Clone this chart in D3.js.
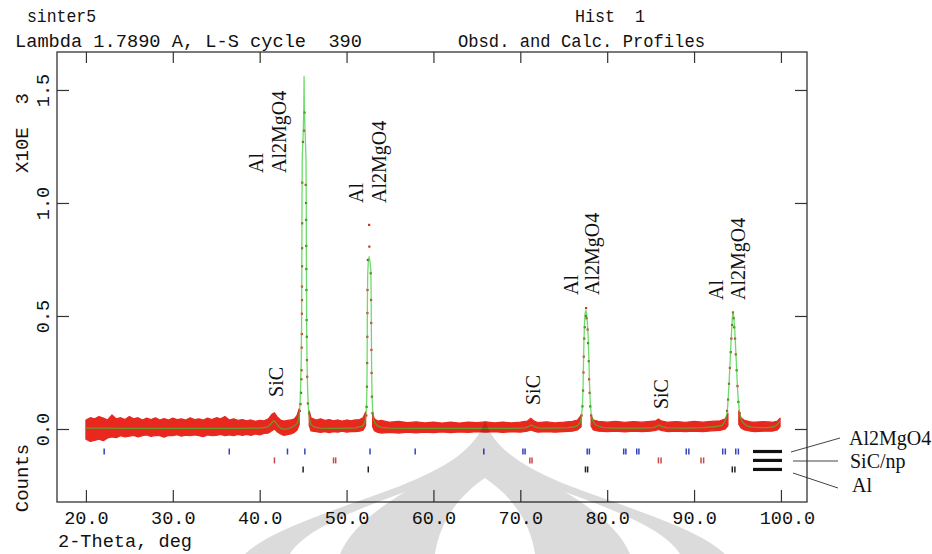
<!DOCTYPE html>
<html><head><meta charset="utf-8">
<script src="https://cdn.jsdelivr.net/npm/d3@7"></script>
<style>
body{margin:0;background:#fff}
svg{display:block}
.mono{font-family:"Liberation Mono",monospace;fill:#111}
.serif{font-family:"Liberation Serif",serif;fill:#111}
</style>
</head><body>
<svg id="chart" width="932" height="554"></svg>
<script>
// ---------------- DATA ----------------
const xTickValues = [20, 30, 40, 50, 60, 70, 80, 90, 100];
const yTickValues = [0, 0.5, 1.0, 1.5];

const bandTheta = [20.0,20.5,21.0,21.5,22.0,22.5,23.0,23.5,24.0,24.5,25.0,25.5,26.0,26.5,27.0,27.5,28.0,28.5,29.0,29.5,30.0,30.5,31.0,31.5,32.0,32.5,33.0,33.5,34.0,34.5,35.0,35.5,36.0,36.5,37.0,37.5,38.0,38.5,39.0,39.5,40.0,40.5,41.0,41.4,41.7,42.0,42.4,42.8,43.2,43.6,44.0,44.3,44.55,
 null,
 45.7,45.9,46.5,47.0,47.5,48.0,48.5,49.0,49.5,50.0,50.5,51.0,51.5,51.9,52.2,
 null,
 53.0,53.2,53.6,54.0,55,56,57,58,59,60,61,62,63,64,65,66,67,68,69,70,70.8,71.2,71.6,72,73,74,75,76,76.6,77.0,
 null,
 78.15,78.4,79,80,81,82,83,84,85,85.6,85.9,86.2,87,88,89,90,91,92,93,93.6,93.9,
 null,
 95.15,95.4,95.8,96.5,97,98,99,99.6,99.9];
const bandHigh = [0.040,0.050,0.045,0.055,0.048,0.040,0.062,0.045,0.050,0.042,0.055,0.045,0.050,0.040,0.048,0.042,0.050,0.040,0.046,0.040,0.048,0.042,0.045,0.040,0.050,0.042,0.045,0.040,0.048,0.042,0.050,0.045,0.055,0.040,0.045,0.038,0.042,0.036,0.040,0.034,0.038,0.036,0.045,0.065,0.072,0.055,0.040,0.035,0.038,0.040,0.045,0.060,0.090,
 null,
 0.080,0.050,0.040,0.045,0.038,0.042,0.036,0.040,0.035,0.040,0.036,0.040,0.042,0.050,0.075,
 null,
 0.070,0.045,0.035,0.038,0.030,0.034,0.028,0.032,0.027,0.030,0.026,0.030,0.026,0.030,0.028,0.032,0.027,0.030,0.027,0.030,0.035,0.048,0.035,0.028,0.032,0.027,0.030,0.034,0.040,0.060,
 null,
 0.060,0.040,0.034,0.030,0.034,0.029,0.033,0.030,0.034,0.036,0.044,0.036,0.030,0.033,0.029,0.034,0.030,0.034,0.036,0.045,0.070,
 null,
 0.080,0.050,0.038,0.032,0.030,0.033,0.030,0.035,0.048];
const bandLow = [-0.045,-0.055,-0.050,-0.045,-0.052,-0.040,-0.035,-0.038,-0.030,-0.035,-0.032,-0.028,-0.035,-0.030,-0.026,-0.033,-0.028,-0.030,-0.036,-0.028,-0.030,-0.025,-0.032,-0.027,-0.030,-0.026,-0.030,-0.034,-0.026,-0.030,-0.028,-0.024,-0.030,-0.026,-0.030,-0.024,-0.028,-0.024,-0.028,-0.022,-0.026,-0.020,-0.018,-0.008,0.000,-0.012,-0.022,-0.028,-0.025,-0.022,-0.015,-0.005,0.020,
 null,
 0.015,-0.008,-0.012,-0.015,-0.012,-0.016,-0.012,-0.014,-0.010,-0.014,-0.012,-0.012,-0.010,-0.005,0.015,
 null,
 0.010,-0.008,-0.015,-0.018,-0.015,-0.018,-0.014,-0.017,-0.014,-0.016,-0.013,-0.016,-0.013,-0.015,-0.012,-0.014,-0.012,-0.015,-0.012,-0.014,-0.010,-0.004,-0.010,-0.014,-0.012,-0.014,-0.012,-0.010,-0.004,0.010,
 null,
 0.012,-0.004,-0.010,-0.012,-0.010,-0.013,-0.010,-0.012,-0.010,-0.006,-0.002,-0.006,-0.012,-0.010,-0.012,-0.010,-0.012,-0.008,-0.006,0.000,0.015,
 null,
 0.020,0.005,-0.004,-0.010,-0.012,-0.010,-0.010,-0.004,0.010];

// observed points on the peaks [2theta, counts/1000]
const obsPeakPoints = [
 [44.62,0.08],[44.70,0.11],[44.76,0.16],[44.80,0.22],[44.82,0.26],[44.84,0.36],[44.85,0.42],[44.86,0.51],[44.87,0.57],[44.87,0.63],[44.88,0.72],[44.88,0.80],[44.89,0.91],[44.90,1.09],[44.98,1.27],[45.10,1.32],[45.16,1.40],[45.30,1.08],[45.34,1.00],[45.35,0.925],[45.36,0.81],[45.37,0.708],[45.38,0.615],[45.40,0.482],[45.42,0.408],[45.44,0.305],[45.47,0.231],[45.55,0.113],[45.68,0.069],
 [52.60,0.903],[52.62,0.807],[52.45,0.748],[52.78,0.689],[52.41,0.615],[52.82,0.571],[52.40,0.513],[52.84,0.469],[52.39,0.408],[52.86,0.35],[52.37,0.292],[52.88,0.248],[52.35,0.187],[52.92,0.143],[52.31,0.098],[52.98,0.07],[52.27,0.06],
 [77.57,0.535],[77.55,0.50],[77.62,0.49],[77.42,0.45],[77.75,0.44],[77.36,0.40],[77.80,0.38],[77.30,0.32],[77.88,0.30],[77.27,0.25],[77.92,0.22],[77.22,0.17],[77.98,0.16],[77.15,0.10],[78.05,0.10],[77.05,0.06],[78.15,0.06],
 [94.48,0.515],[94.55,0.49],[94.38,0.46],[94.62,0.45],[94.30,0.40],[94.72,0.40],[94.22,0.34],[94.80,0.33],[94.12,0.27],[94.90,0.26],[94.02,0.20],[95.00,0.19],[93.92,0.13],[95.10,0.12],[93.80,0.08],[95.25,0.07]
];

// calculated profile [2theta, counts/1000]
const calcProfile = [
 [19.9,0.004],[22,0.004],[25,0.003],[28,0.003],[31,0.003],[34,0.003],[37,0.003],[40,0.004],[40.8,0.008],[41.2,0.018],[41.5,0.034],[41.7,0.036],[42.0,0.02],[42.4,0.004],[42.8,-0.002],[43.3,0.002],[43.8,0.01],[44.2,0.02],[44.4,0.03],[44.55,0.06],[44.65,0.12],[44.72,0.2],[44.78,0.3],[44.82,0.45],[44.85,0.7],[44.87,1.0],[44.90,1.2],[45.0,1.3],[45.08,1.42],[45.11,1.56],[45.14,1.42],[45.24,1.3],[45.33,1.2],[45.36,1.0],[45.38,0.7],[45.41,0.45],[45.45,0.3],[45.5,0.2],[45.57,0.12],[45.65,0.07],[45.75,0.04],[45.9,0.02],[46.3,0.008],[47,0.004],[48,0.003],[49,0.003],[50,0.004],[51,0.005],[51.6,0.01],[51.9,0.015],
 [52.1,0.03],[52.2,0.05],[52.28,0.09],[52.33,0.15],[52.36,0.25],[52.38,0.4],[52.40,0.55],[52.43,0.68],[52.50,0.74],[52.60,0.762],[52.70,0.74],[52.80,0.70],[52.84,0.55],[52.86,0.4],[52.89,0.25],[52.93,0.15],[52.99,0.09],[53.08,0.05],[53.2,0.03],[53.5,0.015],[54,0.007],[55,0.004],[58,0.003],[62,0.003],[66,0.003],[69,0.003],[70.5,0.005],[71.0,0.012],[71.3,0.018],[71.6,0.01],[72.2,0.004],[74,0.004],[75.5,0.006],[76.3,0.01],[76.6,0.015],
 [76.9,0.03],[77.05,0.06],[77.15,0.1],[77.22,0.18],[77.27,0.28],[77.32,0.38],[77.38,0.46],[77.45,0.51],[77.55,0.525],[77.62,0.51],[77.72,0.47],[77.82,0.40],[77.90,0.30],[77.96,0.2],[78.05,0.12],[78.15,0.07],[78.3,0.04],[78.6,0.02],[79.0,0.012],[79.6,0.006],[81,0.004],[84,0.004],[85.3,0.006],[85.7,0.012],[85.95,0.018],[86.3,0.01],[87,0.005],[89,0.004],[91,0.006],[92.3,0.01],[93.2,0.015],
 [93.5,0.03],[93.7,0.05],[93.85,0.09],[93.95,0.15],[94.05,0.22],[94.15,0.30],[94.25,0.38],[94.33,0.44],[94.42,0.50],[94.50,0.52],[94.58,0.49],[94.68,0.44],[94.77,0.37],[94.86,0.30],[94.95,0.22],[95.05,0.15],[95.18,0.09],[95.35,0.05],[95.6,0.03],[96.0,0.015],[96.6,0.008],[97.5,0.006],[98.5,0.006],[99.2,0.01],[99.6,0.02],[99.9,0.035]
];

// reflection tick positions (2theta)
const al2mgo4Ticks = [22.1,36.5,43.2,45.2,52.7,57.9,65.8,70.3,77.7,81.9,83.4,89.1,93.3,94.8];
const al2mgo4Ka2   = [70.55,77.95,82.15,83.65,89.4,93.6,95.1];
const sicTicks     = [41.7,48.5,71.1,85.9,90.8];
const sicKa2       = [48.75,71.35,86.2,91.1];
const alTicks      = [45.0,52.5,77.5,94.4];
const alKa2        = [77.75,94.7];

// peak annotations [text, 2theta, counts/1000]
const peakLabels = [
 ["Al",40.39,1.133],["Al2MgO4",43.0,1.133],
 ["Al",51.9,1.0],["Al2MgO4",54.54,1.0],
 ["Al",76.64,0.593],["Al2MgO4",79.06,0.593],
 ["Al",93.35,0.571],["Al2MgO4",95.88,0.571],
 ["SiC",42.69,0.142],["SiC",72.27,0.106],["SiC",87.0,0.088]
];
const phaseNames = ["Al2MgO4","SiC/np","Al"];

// ---------------- CHART ----------------
const svg = d3.select("#chart");
const L = 57, R = 807, T = 52, B = 502;
const x = d3.scaleLinear().domain([16.67, 103.0]).range([L, R]);
const y = d3.scaleLinear().domain([-0.323, 1.668]).range([B, T]);

// band
const bandData = bandTheta.map((t, i) => t == null ? null : [t, bandHigh[i], bandLow[i]]);
const area = d3.area().defined(d => d != null)
  .x(d => x(d[0])).y0(d => y(d[2])).y1(d => y(d[1]));
svg.append("path").datum(bandData).attr("d", area)
  .attr("fill", "#e8281f").attr("stroke", "#e8281f").attr("stroke-width", 1.2).attr("stroke-linejoin","round");

// obs peak points
svg.append("g").selectAll("rect").data(obsPeakPoints).join("rect")
  .attr("x", d => x(d[0]) - 1.1).attr("y", d => y(d[1]) - 1.1)
  .attr("width", 2.2).attr("height", 2.2).attr("fill", "#cc3322");

// calc line
const line = d3.line().x(d => x(d[0])).y(d => y(d[1]));
svg.append("path").datum(calcProfile).attr("d", line)
  .attr("fill", "none").attr("stroke", "#2ecc2e").attr("stroke-width", 1.3)
  .attr("stroke-opacity", 0.7).attr("stroke-linejoin", "round");

// reflection ticks
const rows = [
  {main: al2mgo4Ticks, ka2: al2mgo4Ka2, color: "#3344bb", c: -0.0996},
  {main: sicTicks, ka2: sicKa2, color: "#c84a4a", c: -0.139},
  {main: alTicks, ka2: alKa2, color: "#222222", c: -0.179}
];
rows.forEach(r => {
  const g = svg.append("g").attr("stroke", r.color).attr("stroke-width", 1.5);
  const all = r.main.concat(r.ka2);
  g.selectAll("line").data(all).join("line")
    .attr("x1", d => x(d)).attr("x2", d => x(d))
    .attr("y1", y(r.c) - 3).attr("y2", y(r.c) + 3);
});

// legend bars + leaders
const lg = svg.append("g");
rows.forEach((r, i) => {
  lg.append("line").attr("x1", 753).attr("x2", 782)
    .attr("y1", y(r.c)).attr("y2", y(r.c))
    .attr("stroke", "#111").attr("stroke-width", 3.2);
});
const leaders = [[791,452,840,438],[793,461,838,461],[793,473,838,488]];
leaders.forEach(l => lg.append("line").attr("x1", l[0]).attr("y1", l[1]).attr("x2", l[2]).attr("y2", l[3])
  .attr("stroke", "#444").attr("stroke-width", 1));
const legendPos = [[849,445],[850,468],[852,492]];
phaseNames.forEach((n, i) => lg.append("text").attr("class", "serif")
  .attr("x", legendPos[i][0]).attr("y", legendPos[i][1]).attr("font-size", 20).text(n));

// axes
const axG = svg.append("g").attr("class", "axes");
const xb = axG.append("g").attr("transform", `translate(0,${B})`)
  .call(d3.axisBottom(x).tickValues(xTickValues).tickSizeInner(-12).tickSizeOuter(0).tickFormat(d3.format(".1f")));
xb.selectAll("text").attr("class", "mono").attr("font-size", 18.5).attr("y", 22).attr("dy", 0)
  .attr("dx", d => d >= 100 ? 6 : 0);
const xt = axG.append("g").attr("transform", `translate(0,${T})`)
  .call(d3.axisTop(x).tickValues(xTickValues).tickSizeInner(-11).tickSizeOuter(0).tickFormat(""));
const yl = axG.append("g").attr("transform", `translate(${L},0)`)
  .call(d3.axisLeft(y).tickValues(yTickValues).tickSizeInner(-12).tickSizeOuter(0).tickFormat(d3.format(".1f")));
yl.selectAll("text").attr("class", "mono").attr("font-size", 18.5)
  .attr("x", 0).attr("dy", 0).attr("text-anchor", "middle")
  .attr("transform", "translate(-8,0) rotate(-90)");
const yr = axG.append("g").attr("transform", `translate(${R},0)`)
  .call(d3.axisRight(y).tickValues(yTickValues).tickSizeInner(-12).tickSizeOuter(0).tickFormat(""));
axG.selectAll(".domain").remove();
axG.selectAll(".tick line").attr("stroke", "#333").attr("stroke-width", 1.2);
axG.selectAll(".tick text").attr("fill", "#111");
svg.append("rect").attr("x", L).attr("y", T).attr("width", R - L).attr("height", B - T)
  .attr("fill", "none").attr("stroke", "#333").attr("stroke-width", 1.3);

// peak labels
svg.append("g").selectAll("text").data(peakLabels).join("text")
  .attr("class", "serif").attr("font-size", 20)
  .attr("transform", d => `translate(${x(d[1])},${y(d[2])}) rotate(-90)`)
  .text(d => d[0]);

// titles  [text, x, baseline, width]
const tt = [["sinter5",27,22,69],["Lambda 1.7890 A, L-S cycle  390",15,47,347],["Hist  1",575,22,70],["Obsd. and Calc. Profiles",458,47,247],["2-Theta, deg",58,547,134]];
tt.forEach(t => svg.append("text").attr("class", "mono").attr("font-size", 19)
  .attr("x", t[1]).attr("y", t[2]).attr("textLength", t[3]).attr("lengthAdjust", "spacingAndGlyphs")
  .style("white-space", "pre").text(t[0]));
svg.append("text").attr("class", "mono").attr("font-size", 19).attr("text-anchor", "middle")
  .attr("transform", "translate(28,133) rotate(-90)").style("white-space", "pre").text("X10E  3");
svg.append("text").attr("class", "mono").attr("font-size", 19).attr("text-anchor", "middle")
  .attr("transform", "translate(28,478) rotate(-90)").text("Counts");

// faint watermark
const wm = svg.append("g").attr("fill", "#000").attr("fill-opacity", 0.14);
wm.append("path").attr("fill-rule", "evenodd").attr("d",
  "M485,421 C475,450 445,468 400,486 C330,512 270,530 245,554 L725,554 C700,530 640,512 570,486 C525,468 495,450 485,421 Z " +
  "M405,492 C350,512 305,530 290,554 L340,554 C350,530 375,510 405,492 Z " +
  "M565,492 C620,512 665,530 680,554 L630,554 C620,530 595,510 565,492 Z " +
  "M485,478 C460,495 440,520 435,554 L535,554 C530,520 510,495 485,478 Z");
</script>
</body></html>
